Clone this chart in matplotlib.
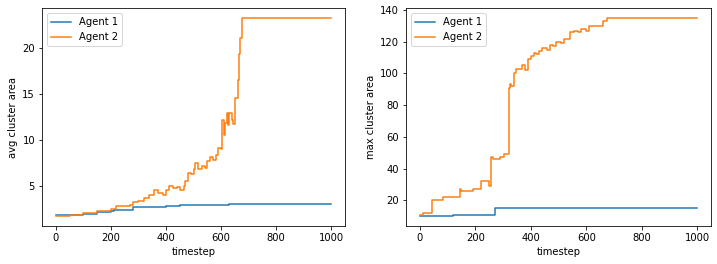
import numpy as np
import matplotlib.pyplot as plt

# avg cluster area (breakpoints)
avg_t1 = [0, 100, 150, 200, 210, 270, 280, 350, 400, 450, 550, 630, 1000]
avg_a1 = [1.95, 2.0, 2.2, 2.3, 2.45, 2.5, 2.75, 2.8, 2.9, 3.0, 3.05, 3.15, 3.15]

avg_t2 = [0, 50, 100, 150, 200, 220, 270, 280, 300, 320, 340, 355, 370, 390, 400,
          410, 425, 440, 450, 465, 470, 480, 490, 500, 505, 515, 530, 540, 550,
          560, 570, 580, 590, 600, 605, 610, 615, 620, 625, 630, 640, 645, 650,
          652, 660, 665, 670, 675, 1000]
avg_a2 = [1.8, 1.95, 2.1, 2.3, 2.55, 2.9, 3.0, 3.3, 3.4, 3.7, 4.1, 4.6, 4.3, 4.1, 4.6,
          5.0, 4.8, 4.9, 4.6, 5.0, 5.6, 6.5, 6.3, 6.9, 7.5, 6.9, 7.2, 7.0, 7.7,
          8.2, 7.9, 8.4, 9.2, 9.0, 12.2, 10.6, 11.9, 12.9, 11.6, 12.9, 12.2, 11.7, 12.2,
          14.5, 16.5, 19.3, 21.0, 23.2, 23.2]

# max cluster area
max_t1 = [0, 120, 270, 1000]
max_a1 = [10, 11, 15, 15]

max_t2 = [0, 10, 45, 85, 145, 150, 190, 220, 250, 258, 265, 290, 305, 320, 325,
          330, 340, 345, 370, 380, 390, 400, 410, 420, 430, 440, 460, 470, 480,
          490, 510, 520, 540, 555, 570, 580, 600, 610, 650, 660, 675, 1000]
max_a2 = [11, 12, 20, 22, 27, 26, 27, 32, 29, 47, 46, 47, 49, 91, 93,
          92, 100, 103, 105, 102, 109, 111, 113, 112, 114, 116, 115, 118, 117,
          120, 119, 122, 126, 127, 126, 128, 127, 130, 130, 133, 135, 135]

fig = plt.figure(figsize=(717/72, 264/72), dpi=72)
ax1 = fig.add_axes([42/717, 1-226/264, 303/717, 218/264])
ax2 = fig.add_axes([406/717, 1-226/264, 305/717, 218/264])

ax1.step(avg_t1, avg_a1, where='post', label='Agent 1')
ax1.step(avg_t2, avg_a2, where='post', label='Agent 2')
ax1.set_xlabel('timestep')
ax1.set_ylabel('avg cluster area')
ax1.legend(loc='upper left')

ax2.step(max_t1, max_a1, where='post', label='Agent 1')
ax2.step(max_t2, max_a2, where='post', label='Agent 2')
ax2.set_xlabel('timestep')
ax2.set_ylabel('max cluster area')
ax2.legend(loc='upper left')

fig.savefig('out.png', dpi=72)
